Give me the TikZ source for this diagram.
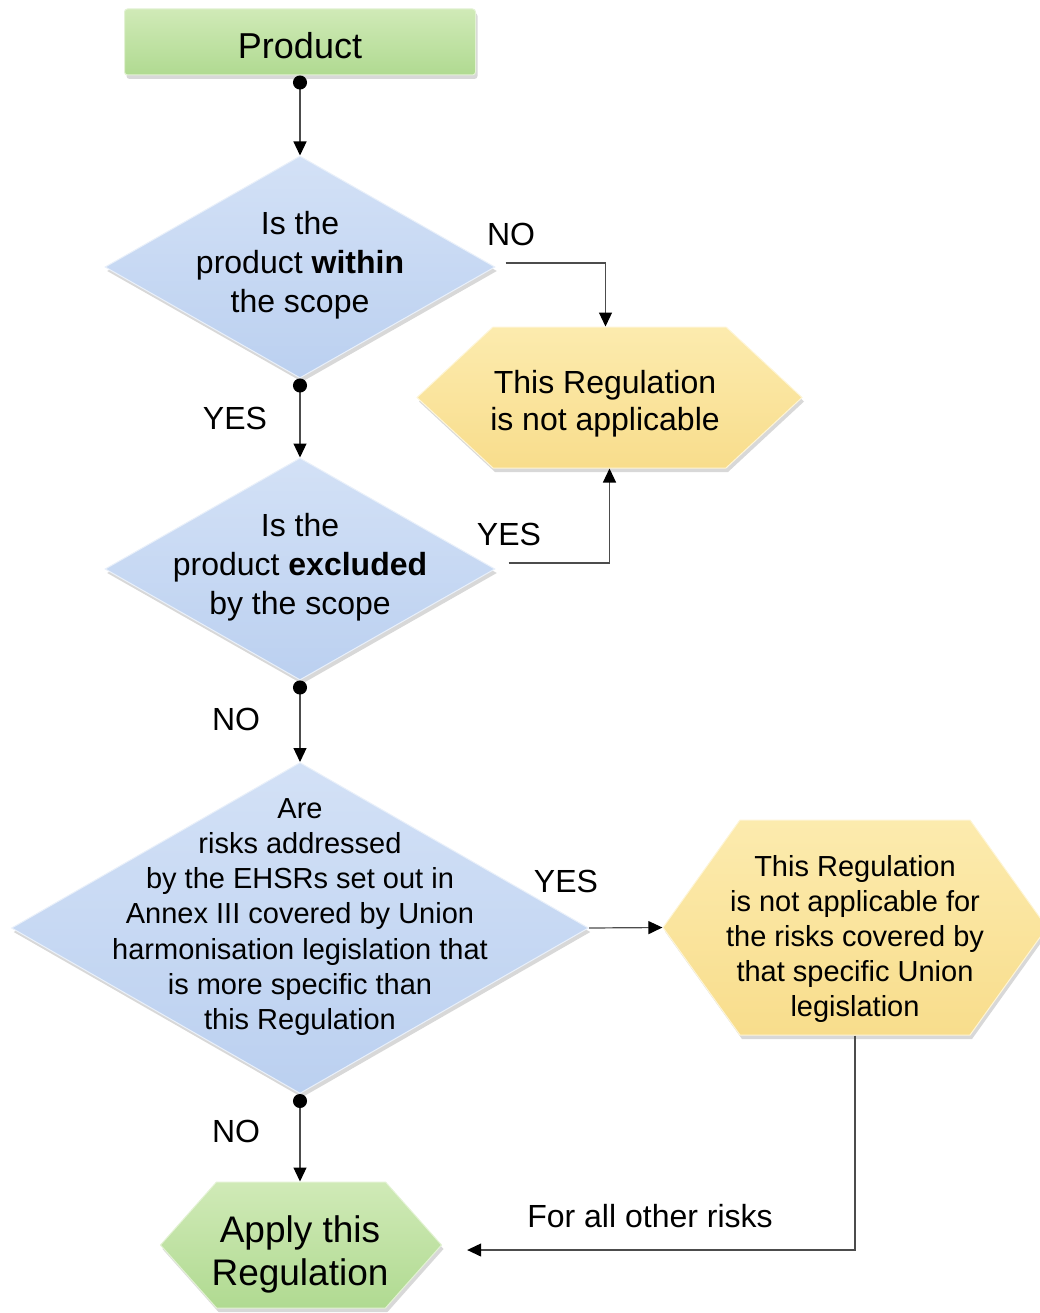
\documentclass[tikz,border=0pt]{standalone}
\usepackage{fontspec}
\setmainfont{Liberation Sans}
\usetikzlibrary{shapes.geometric,shapes.symbols,shadows,arrows.meta}
\definecolor{qblueA}{HTML}{D3E1F6}
\definecolor{qblueB}{HTML}{BBD0F0}
\definecolor{hyellowA}{HTML}{FCEBAE}
\definecolor{hyellowB}{HTML}{F8DD8C}
\definecolor{sgreenA}{HTML}{D0EAB7}
\definecolor{sgreenB}{HTML}{B0DA91}
\tikzset{
  shade3d/.style={drop shadow={shadow xshift=2pt,shadow yshift=-4pt,opacity=.22,fill=black!70}},
  decision/.style={diamond,shade3d,top color=qblueA,bottom color=qblueB,draw=white!50!qblueA,line width=1pt,inner sep=0pt},
  resultbox/.style={signal,signal to=east and west,shade3d,top color=hyellowA,bottom color=hyellowB,draw=white!50!hyellowA,line width=1pt,inner sep=0pt},
  greenbox/.style={shade3d,top color=sgreenA,bottom color=sgreenB,draw=white!40!sgreenA,line width=1pt,inner sep=0pt},
  boxtext/.style={align=center,inner sep=0pt},
  answer/.style={inner sep=0pt,font=\fontsize{32}{38}\selectfont},
  flow/.style={draw=black!70,line width=1.2pt},
  dotarrow/.style={flow,{Circle[length=14pt,black]}-{Triangle[length=14pt,width=13pt,black]}},
  plainarrow/.style={flow,-{Triangle[length=14pt,width=13pt,black]}}
}
\begin{document}
\begin{tikzpicture}[x=1pt,y=-1pt]
  \useasboundingbox (0,0) rectangle (1039,1313);

  %Product (start)
  \node[greenbox,rectangle,rounded corners=3pt,minimum width=351pt,minimum height=66pt,text height=34pt,text depth=0pt,font=\fontsize{36}{43}\selectfont] (prod) at (300,42) {Product};

  %question 1: within the scope
  \node[decision,minimum width=390pt,minimum height=222pt] (q1) at (300,267) {};
  \node[boxtext,font=\fontsize{32}{39}\selectfont] (q1txt) at (300,265) {Is the\\product \textbf{within}\\the scope};

  %question 2: excluded by the scope
  \node[decision,minimum width=390pt,minimum height=222pt] (q2) at (300,569) {};
  \node[boxtext,font=\fontsize{32}{39}\selectfont] (q2txt) at (300,567) {Is the\\product \textbf{excluded}\\by the scope};

  %question 3: more specific Union legislation
  \node[decision,minimum width=577pt,minimum height=331pt] (q3) at (300,928) {};
  \node[boxtext,font=\fontsize{29}{35.2}\selectfont] (q3txt) at (300,917) {Are\\risks addressed\\by the EHSRs set out in\\Annex III covered by Union\\harmonisation legislation that\\is more specific than\\this Regulation};

  %not applicable
  \node[resultbox,minimum width=385pt,minimum height=141pt,signal pointer angle=85.7] (na1) at (609.5,397.5) {};
  \node[boxtext,font=\fontsize{32}{37}\selectfont] (na1txt) at (605,404) {This Regulation\\is not applicable};

  %not applicable for the covered risks
  \node[resultbox,minimum width=384pt,minimum height=215pt,signal pointer angle=108.8] (na2) at (855,927.5) {};
  \node[boxtext,font=\fontsize{29}{35.2}\selectfont] (na2txt) at (855,939) {This Regulation\\is not applicable for\\the risks covered by\\that specific Union\\legislation};

  %apply (end)
  \node[greenbox,signal,signal to=east and west,minimum width=281pt,minimum height=126pt,signal pointer angle=96.7] (apply) at (301,1245) {};
  \node[boxtext,font=\fontsize{37}{43}\selectfont] (applytxt) at (300,1254) {Apply this\\Regulation};

  %connectors
  \draw[dotarrow] (prod.south) -- (q1.north);
  \draw[dotarrow] (q1.south) -- (q2.north);
  \draw[dotarrow] (q2.south) -- (q3.north);
  \draw[dotarrow] (q3.south) -- (q3.south |- apply.north);
  \draw[plainarrow] ([xshift=10pt,yshift=4pt]q1.east) -| ([xshift=-4pt]na1.north);
  \draw[plainarrow] ([xshift=13pt,yshift=6pt]q2.east) -| (na1.south);
  \draw[plainarrow] (q3.east) -- (na2.west);
  \draw[plainarrow] (na2.south) |- ([xshift=25pt,yshift=-5pt]apply.east);

  %answers
  \node[answer] (no1) at (511,234) {NO};
  \node[answer] (yes1) at (235,418) {YES};
  \node[answer] (yes2) at (509,534) {YES};
  \node[answer] (no2) at (236,719) {NO};
  \node[answer] (yes3) at (566,881) {YES};
  \node[answer] (no3) at (236,1131) {NO};
  \node[answer] (other) at (650,1216) {For all other risks};
\end{tikzpicture}
\end{document}
